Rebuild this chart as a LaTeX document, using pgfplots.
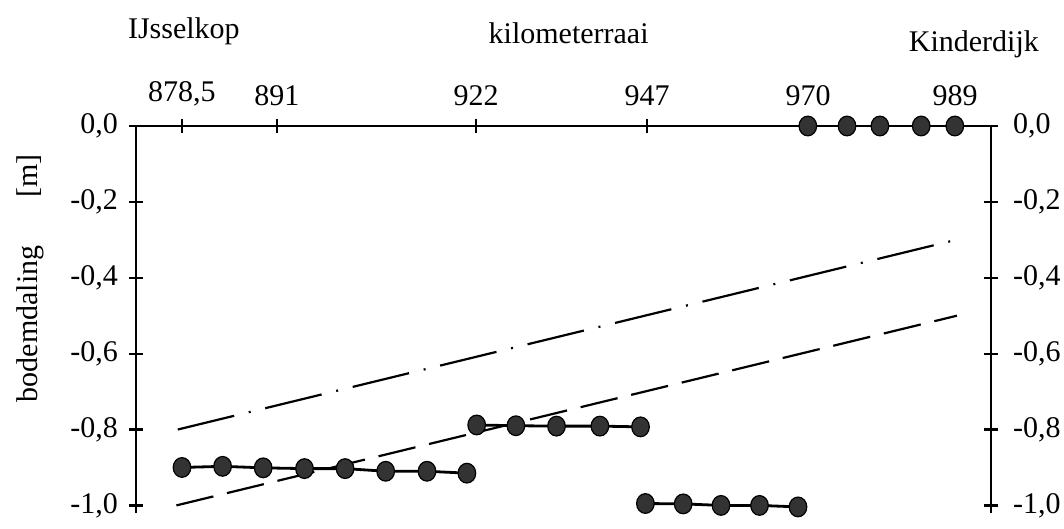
\documentclass[border=0pt]{standalone}
\usepackage{fontspec}
\setmainfont{Liberation Serif}
\usepackage{pgfplots}
\pgfplotsset{compat=1.18}

\begin{document}
\begin{tikzpicture}[font=\fontsize{15}{18}\selectfont]
\pgfplotsset{
  common/.style={
    scale only axis, width=427.5pt, height=193.5pt,
    xmin=871.93, xmax=994.07, ymin=-1.02, ymax=0,
    axis line style={line width=1.4pt,-},
    tick align=center, major tick length=7pt,
    tick style={line width=1.1pt, black},
    ytick={0,-0.2,-0.4,-0.6,-0.8,-1.0},
    yticklabels={{0,0},{-0,2},{-0,4},{-0,6},{-0,8},{-1,0}},
    clip=false,
  },
  mk/.style={line width=1.4pt, black, mark=*, mark size=4.4pt,
    mark options={fill=black!80, draw=black, yscale=1.12, line width=0.6pt}},
}
\begin{axis}[common, name=ax,
  axis x line*=top, axis y line*=left,
  xtick={878.5,892.07,920.5,944.93,967.93,988.93},
  xticklabels={{878,5},891,922,947,970,989},
  xticklabel style={yshift=3pt},
  yticklabel style={xshift=-2pt},
]
% dash-dot line
\addplot[line width=1.1pt, black, dash pattern=on 29pt off 7.5pt on 1pt off 7.5pt]
  coordinates {(877.9,-0.80) (989.1,-0.30)};
% dashed line
\addplot[line width=1.1pt, black, dash pattern=on 19pt off 7pt]
  coordinates {(877.7,-1.00) (989.2,-0.50)};
% measured segments
\addplot[mk] coordinates {(878.5,-0.900) (884.3,-0.897) (890.1,-0.901) (896.0,-0.903)
  (901.8,-0.903) (907.6,-0.910) (913.5,-0.910) (919.2,-0.915)};
\addplot[mk] coordinates {(920.6,-0.788) (926.2,-0.790) (932.0,-0.791) (938.2,-0.791) (944.0,-0.793)};
\addplot[mk] coordinates {(944.7,-0.995) (950.1,-0.996) (955.5,-1.000) (961.0,-1.000) (966.5,-1.004)};
\addplot[mk] coordinates {(967.9,0) (973.5,0) (978.2,0) (984.1,0) (988.9,0)};

\node[rotate=90, anchor=center] at (rel axis cs:-0.124,0.607) {bodemdaling\hspace{1.6em}[m]};
\node[anchor=center] at (rel axis cs:0.056,1.245) {IJsselkop};
\node[anchor=center] at (rel axis cs:0.506,1.240) {kilometerraai};
\node[anchor=center] at (rel axis cs:0.980,1.212) {Kinderdijk};
\end{axis}
\begin{axis}[common, at={(ax.south west)}, anchor=south west,
  axis x line=none, axis y line*=right,
  yticklabel style={xshift=4pt},
]
\end{axis}
\pgfresetboundingbox
\path ([shift={(-68pt,-8pt)}]ax.south west) rectangle ([shift={(464pt,256.5pt)}]ax.south west);
\end{tikzpicture}
\end{document}
